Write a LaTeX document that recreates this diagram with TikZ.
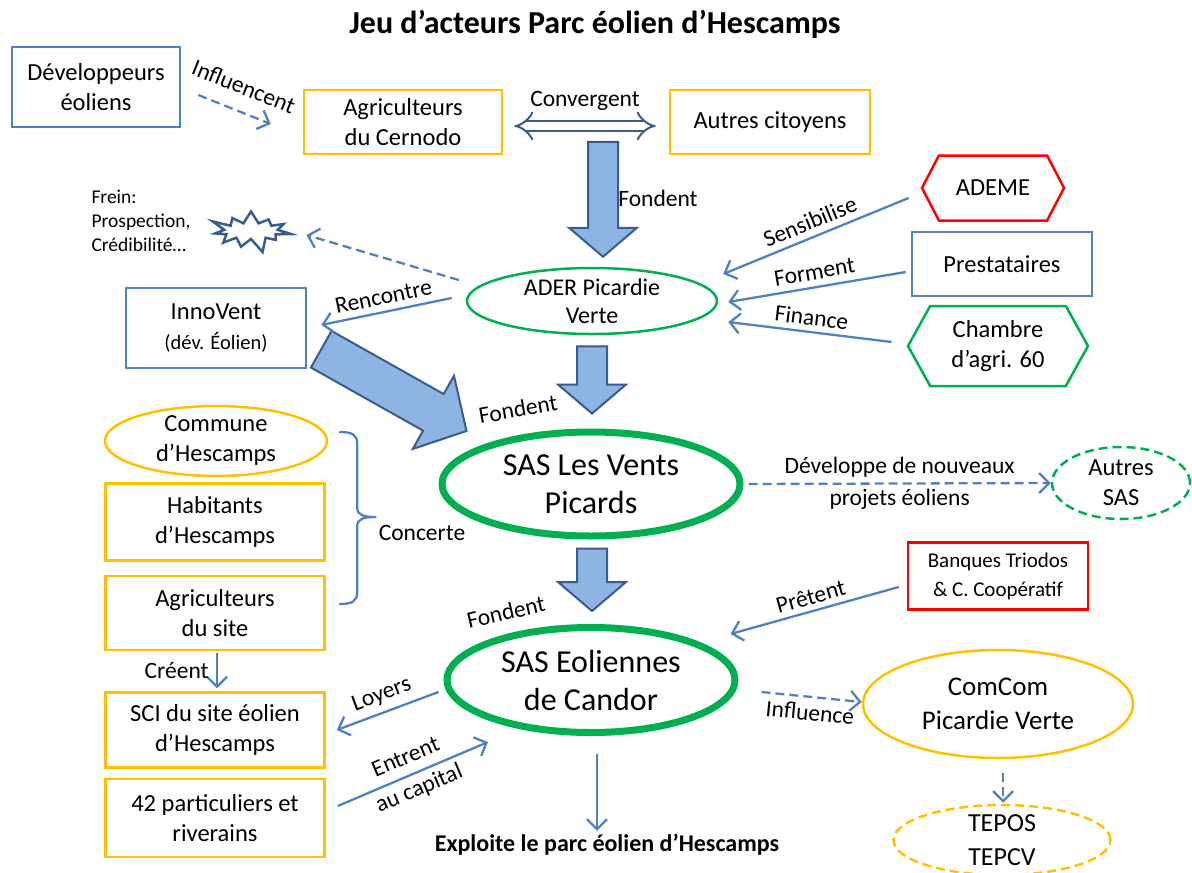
\documentclass[tikz,border=0pt]{standalone}
\usepackage{fontspec}
\setmainfont{Carlito}
\usetikzlibrary{arrows.meta,calc,shapes.geometric,shapes.symbols,decorations.pathreplacing}

\definecolor{lineblue}{RGB}{79,129,189}
\definecolor{darkblue}{RGB}{56,93,138}
\definecolor{fillblue}{RGB}{141,180,226}
\definecolor{boxorange}{RGB}{255,192,0}
\definecolor{boxgreen}{RGB}{0,176,80}
\definecolor{boxred}{RGB}{255,0,0}

\tikzset{
  boxtext/.style={font=\fontsize{24.5}{30}\selectfont, align=center, inner sep=0pt},
  bluebox/.style={boxtext, draw=lineblue, line width=2.5pt},
  orangebox/.style={boxtext, draw=boxorange, line width=2.5pt},
  redbox/.style={boxtext, draw=boxred, line width=2.5pt},
  orangeell/.style={boxtext, ellipse, draw=boxorange, line width=2.5pt},
  greenell/.style={boxtext, ellipse, draw=boxgreen, line width=2.5pt},
  sasell/.style={ellipse, draw=boxgreen, line width=7pt, align=center, inner sep=0pt,
    font=\fontsize{32}{38}\selectfont},
  hexa/.style={boxtext, signal, signal to=east and west, line width=2.5pt},
  lbl/.style={font=\fontsize{23.5}{30}\selectfont, align=center},
  rel/.style={draw=lineblue, line width=2.3pt, -{Straight Barb[length=10pt,width=20pt]}},
  dashrel/.style={rel, dash pattern=on 9pt off 5pt},
  fondarrow/.style={draw=darkblue, fill=fillblue, line width=2pt, line join=miter},
}

% fat arrow: from, to, half shaft, half head, head length
\newcommand\fonde[5]{%
  \coordinate (fa) at (#1); \coordinate (fb) at (#2);
  \coordinate (fh) at ($(fb)!#5!(fa)$);
  \draw[fondarrow] ($(fa)!#3!90:(fb)$) -- ($(fh)!#3!90:(fb)$) -- ($(fh)!#4!90:(fb)$)
    -- (fb) -- ($(fh)!#4!-90:(fb)$) -- ($(fh)!#3!-90:(fb)$) -- ($(fa)!#3!-90:(fb)$) -- cycle;}

\begin{document}
\begin{tikzpicture}[x=1pt,y=-1pt]
  \useasboundingbox (0,0) rectangle (1192,873);
  \clip (0,0) rectangle (1192,873);

  \node[font=\bfseries\fontsize{32}{36}\selectfont] (title) at (595,24)
    {Jeu d’acteurs Parc éolien d’Hescamps};

  % top row
  \node[bluebox, minimum width=168pt, minimum height=80pt] (dev) at (96,87) {Développeurs\\éoliens};
  \node[orangebox, minimum width=198pt, minimum height=64pt] (agcern) at (403,122) {Agriculteurs\\du Cernodo};
  \node[orangebox, minimum width=200pt, minimum height=64pt] (autres) at (770,122) {Autres citoyens};

  % ADER and partners
  \node[greenell, font=\fontsize{24}{28}\selectfont, minimum width=250pt, minimum height=66pt, inner ysep=-6pt] (ader) at (592,301) {ADER Picardie\\Verte};
  \node[hexa, draw=boxred, minimum width=142pt, minimum height=65pt, signal pointer angle=125] (ademe) at (993,188) {ADEME};
  \node[bluebox, minimum width=180pt, minimum height=64pt] (prest) at (1002,264) {Prestataires};
  \node[hexa, draw=boxgreen, minimum width=180pt, minimum height=80pt, signal pointer angle=122] (chambre) at (998,346) {Chambre\\d’agri. 60};
  \node[bluebox, minimum width=180pt, minimum height=80pt] (inno) at (216,328)
    {InnoVent\\{\fontsize{20.5}{24}\selectfont(dév. Éolien)}};
  \node[draw=darkblue, line width=2.5pt, starburst, starburst points=11, starburst point height=16pt,
    minimum width=86pt, minimum height=48pt, inner sep=0pt] (star) at (251,231) {};
  \node[font=\fontsize{19.5}{24}\selectfont, align=left, anchor=west] (frein) at (88,221)
    {Frein:\\Prospection,\\Crédibilité…};

  % SAS Les Vents Picards
  \node[sasell, minimum width=298pt, minimum height=104pt] (sasvents) at (591,484) {SAS Les Vents\\Picards};
  \node[orangeell, minimum width=222pt, minimum height=70pt, inner ysep=-6pt] (commune) at (216,441) {Commune\\d’Hescamps};
  \node[orangebox, minimum width=219pt, minimum height=77pt] (habit) at (215,522) {Habitants\\d’Hescamps};
  \node[orangebox, minimum width=219pt, minimum height=74pt] (agsite) at (215,613) {Agriculteurs\\du site};
  \node[greenell, dash pattern=on 9pt off 5pt, minimum width=138pt, minimum height=72pt, inner ysep=-6pt] (autsas) at (1121,483) {Autres\\SAS};

  % SAS Eoliennes de Candor
  \node[redbox, font=\fontsize{21}{29}\selectfont, minimum width=180pt, minimum height=67pt] (banques) at (998,576) {Banques Triodos\\\& C. Coopératif};
  \node[sasell, minimum width=288pt, minimum height=105pt] (saseol) at (591,680) {SAS Eoliennes\\de Candor};
  \node[orangebox, minimum width=219pt, minimum height=75pt] (sci) at (215,730) {SCI du site éolien\\d’Hescamps};
  \node[orangebox, minimum width=219pt, minimum height=78pt] (part) at (215,818) {42 particuliers et\\riverains};
  \node[orangeell, font=\fontsize{27}{34}\selectfont, minimum width=270pt, minimum height=108pt] (comcom) at (998,704) {ComCom\\Picardie Verte};
  \node[orangeell, font=\fontsize{26}{34}\selectfont, dash pattern=on 9pt off 5pt, minimum width=217pt, minimum height=70pt, inner ysep=-12pt] (tepos) at (1002,840) {TEPOS\\TEPCV};
  \node[font=\bfseries\fontsize{24}{28}\selectfont] (exploit) at (607,845) {Exploite le parc éolien d’Hescamps};

  % fat arrows
  \fonde{$(ader.north)+(11,-125)$}{$(ader.north)+(11,-10)$}{15pt}{34pt}{29pt}
  \fonde{$(ader.south)+(0,11)$}{$(sasvents.north)+(1,-15)$}{15pt}{34pt}{29pt}
  \fonde{$(inno.south east)+(14,-20)$}{$(sasvents.west)+(28,-53)$}{21pt}{42pt}{38pt}
  \fonde{$(sasvents.south)+(1,9)$}{$(saseol.north)+(1,-13)$}{15pt}{34pt}{29pt}
  \node[lbl] (fond1) at (658,198) {Fondent};
  \node[lbl, rotate=10] (fond2) at (518,409) {Fondent};
  \node[lbl, rotate=13] (fond3) at (506,612) {Fondent};

  % relations
  \draw[dashrel] ($(dev.east)+(17,8)$) -- node[lbl, midway, sloped, above=12pt] {Influencent} ($(agcern.west)+(-32,2)$);
  \draw[draw=darkblue, line width=2pt, double=white, double distance=8pt, {Implies}-{Implies}]
    ($(agcern.east)+(11,4)$) -- node[lbl, midway, above=11pt] {Convergent} ($(autres.west)+(-13,4)$);
  \draw[dashrel] ($(ader.west)+(-7,-21)$) -- ($(star.east)+(21,4)$);
  \draw[rel] ($(ademe.west)+(-12,10)$) -- node[lbl, midway, sloped, above=3pt] {Sensibilise} ($(ader.east)+(5,-27)$);
  \draw[rel] ($(prest.west)+(-5,8)$) -- node[lbl, midway, sloped, above=3pt] {Forment} ($(ader.east)+(10,1)$);
  \draw[rel] ($(chambre.west)+(-15,-4)$) -- node[lbl, midway, sloped, above=2pt] {Finance} ($(ader.east)+(10,21)$);
  \draw[rel] ($(ader.west)+(-14,-3)$) -- node[lbl, midway, sloped, above=3pt] {Rencontre} ($(inno.east)+(14,-3)$);

  % brace
  \coordinate (bt) at ($(commune.east)+(11,-9)$);
  \begin{scope}[shift={(bt)}]
    \draw[lineblue, line width=2.3pt]
      (0,0) .. controls (12,0) and (18,2) .. (18,12) -- (18,76)
      .. controls (18,83) and (24,85) .. (37,85)
      .. controls (24,85) and (18,87) .. (18,94) -- (18,160)
      .. controls (18,170) and (12,172) .. (0,172);
  \end{scope}
  \node[lbl] (concerte) at (422,533) {Concerte};

  \draw[dashrel] ($(sasvents.east)+(5,0)$) -- node[lbl, midway, font=\fontsize{23.5}{32}\selectfont]
    {Développe de nouveaux\\projets éoliens} (autsas.west);

  \draw[rel] ($(banques.west)+(-8,11)$) -- node[lbl, midway, sloped, above=2pt] {Prêtent} ($(saseol.east)+(-8,-46)$);
  \draw[rel] ($(agsite.south)+(2,2)$) -- node[lbl, midway, left=4pt] {Créent} ($(sci.north)+(2,-3)$);
  \draw[rel] ($(saseol.west)+(-5,12)$) -- node[lbl, midway, sloped, above=3pt] {Loyers} ($(sci.east)+(11,0)$);
  \draw[rel] ($(part.east)+(12,-12)$) -- node[lbl, midway, sloped, font=\fontsize{23.5}{34}\selectfont]
    {Entrent\\au capital} ($(saseol.center)+(-103,62)$);
  \coordinate (exptop) at ($(saseol.south)+(6,18)$);
  \draw[rel] (exptop) -- (exptop |- exploit.north);
  \draw[dashrel] ($(saseol.east)+(23,12)$) -- node[lbl, midway, sloped, below=3pt] {Influence} ($(comcom.west)+(0,-2)$);
  \draw[dashrel] ($(comcom.south)+(5,14)$) -- ($(tepos.north)+(1,-1)$);
\end{tikzpicture}
\end{document}
